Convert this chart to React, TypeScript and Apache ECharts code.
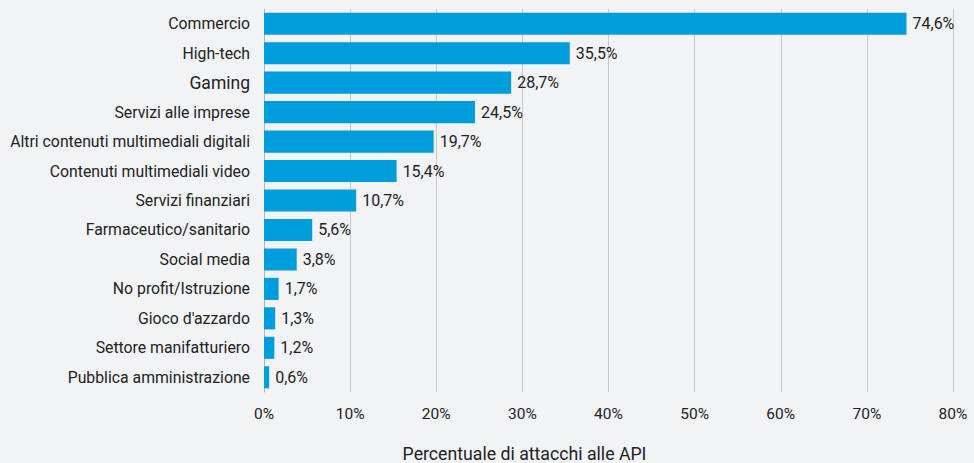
import React, { useEffect, useRef } from "react";
import * as echarts from "echarts";

const categories = [
  "Commercio",
  "High-tech",
  "Gaming",
  "Servizi alle imprese",
  "Altri contenuti multimediali digitali",
  "Contenuti multimediali video",
  "Servizi finanziari",
  "Farmaceutico/sanitario",
  "Social media",
  "No profit/Istruzione",
  "Gioco d'azzardo",
  "Settore manifatturiero",
  "Pubblica amministrazione",
];
const values = [74.6, 35.5, 28.7, 24.5, 19.7, 15.4, 10.7, 5.6, 3.8, 1.7, 1.3, 1.2, 0.6];
const xTicks = [0, 10, 20, 30, 40, 50, 60, 70, 80];
const axisTitle = "Percentuale di attacchi alle API";

export default function App() {
  const ref = useRef<HTMLDivElement>(null);
  useEffect(() => {
    const chart = echarts.init(ref.current!, null, { renderer: "svg" });
    chart.setOption({
      animation: false,
      backgroundColor: "#f2f3f7",
      textStyle: { fontFamily: "Roboto" },
      grid: { left: 264, right: 21, top: 9, bottom: 71, containLabel: false, outerBoundsMode: "none" },
      xAxis: {
        type: "value",
        min: xTicks[0],
        max: xTicks[xTicks.length - 1],
        interval: 10,
        axisLine: { show: false },
        axisTick: { show: false },
        splitLine: { show: true, lineStyle: { color: "#c8c8c8", width: 1 } },
        axisLabel: {
          color: "#222",
          fontSize: 15.5,
          margin: 14,
          formatter: (v: number) => `${v}%`,
        },
        name: axisTitle,
        nameLocation: "middle",
        nameGap: 53,
        nameTextStyle: { color: "#222", fontSize: 17.7, padding: [0, 168, 0, 0] },
      },
      yAxis: {
        type: "category",
        data: categories,
        inverse: true,
        axisLine: { show: true, lineStyle: { color: "#b5b5b5", width: 1 } },
        axisTick: { show: false },
        axisLabel: {
          color: "#222",
          fontSize: 15.8,
          margin: 14,
          formatter: (v: string) => (v === "Gaming" ? `{big|${v}}` : v),
          rich: { big: { fontSize: 17.5, color: "#222", fontFamily: "Roboto" } },
        },
      },
      series: [
        {
          type: "bar",
          data: values,
          barCategoryGap: "25%",
          itemStyle: { color: "#009ddc" },
          label: {
            show: true,
            position: "right",
            distance: 6,
            color: "#222",
            fontSize: 16,
            formatter: (p: any) => `${String(p.value).replace(".", ",")}%`,
          },
        },
      ],
    });
    return () => chart.dispose();
  }, []);
  return <div ref={ref} style={{ width: 974, height: 463, position: "absolute", left: 0, top: 0 }} />;
}
